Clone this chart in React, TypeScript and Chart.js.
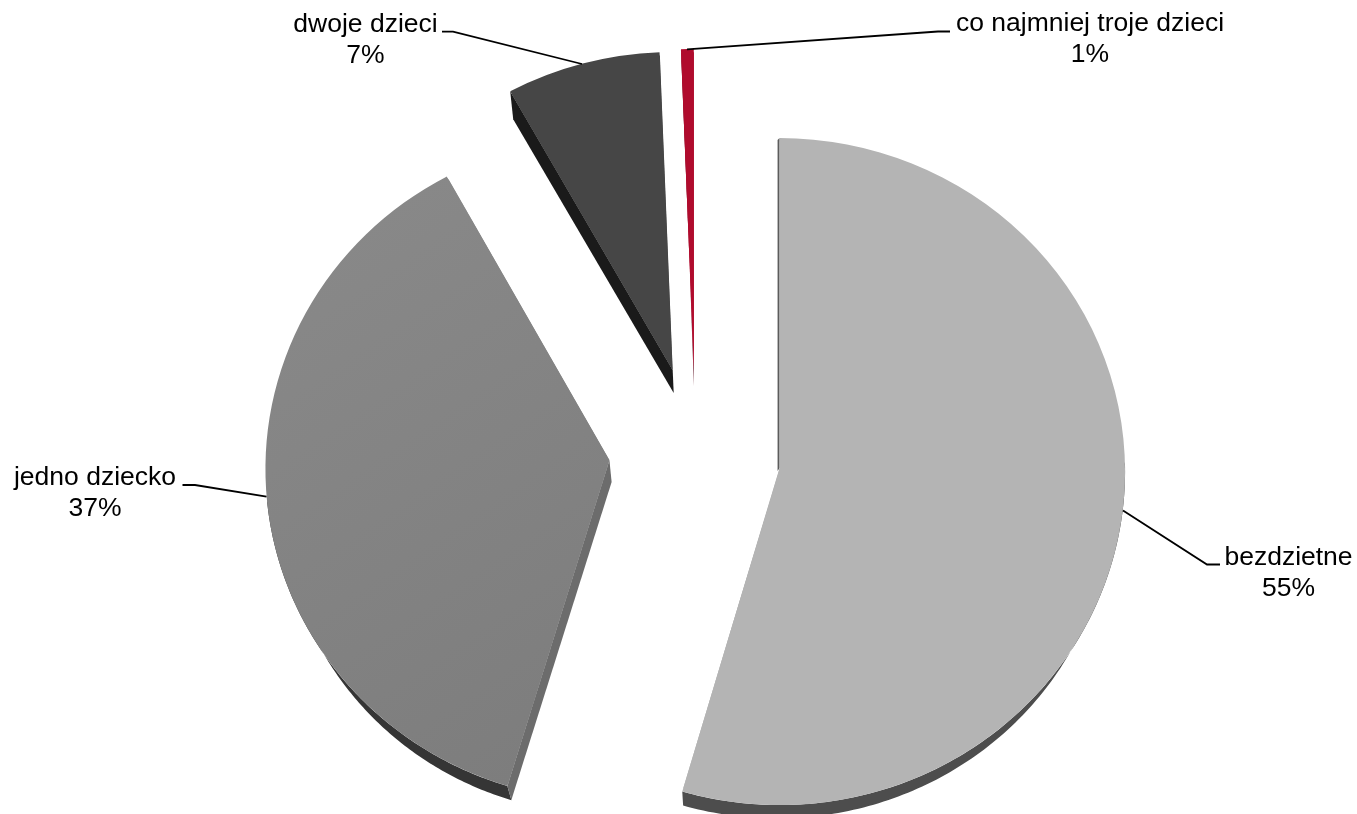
import React, { useEffect, useRef } from "react";
import { Chart, registerables } from "chart.js";

Chart.register(...registerables);

// ---- data ----
const categories = ["bezdzietne", "jedno dziecko", "dwoje dzieci", "co najmniej troje dzieci"];
const sliceValues = [54.67, 37.5, 7.23, 0.6];
const percentLabels = ["55%", "37%", "7%", "1%"];
const topColors = ["#B4B4B4", "#818181", "#464646", "#B00B2D"];
const rimColors = ["#4D4D4D", "#353535", "#1A1A1A", "#5A0A1C"];
const sideColors = ["#5C5C5C", "#6C6C6C", "#1A1A1A", "#5A0A1C"];

// ---- 3D view layout ----
const FONT = '26.5px "Liberation Sans", Arial, sans-serif';
const explode = 86;
const DEG = Math.PI / 180;
const radii = [
  { rx: 345.5, ry: 333.5 },
  { rx: 344, ry: 332 },
  { rx: 344, ry: 332 },
  { rx: 344, ry: 332 },
];
const sag = [
  { x: -0.5, y: 3 },
  { x: 0, y: 4.5 },
  { x: 0.2, y: 11 },
  { x: 0.5, y: 11 },
];
const apexLift = [-3.5, -9, -14, -12];
// small trim of each cut edge (degrees), the perspective opens a wider gap at the lower cut
const trims = [
  { s: 0, e: -0.45 },
  { s: 0.45, e: 0 },
  { s: 0, e: 0 },
  { s: 0, e: 0 },
];
// lower rim: shift and shrink of the bottom ellipse, and the part of the arc that shows it
const rimShift = [
  { x0: 4, x1: -4, y: 30, f: 0.95, from: 0.45, to: 1 },
  { x0: -1, x1: -1, y: 30, f: 0.95, from: 0, to: 0.5 },
  null,
  null,
];
// side wall on each slice's start edge: how far it drops at apex / outer corner
const sideWalls = [
  { apex: { x: -2, y: 3 }, corner: { x: -2, y: 2 } },
  { apex: { x: 2.2, y: 22 }, corner: { x: 4, y: 14 } },
  { apex: { x: 1, y: 23 }, corner: { x: 3, y: 28 } },
  { apex: { x: 0, y: 17 }, corner: { x: 2, y: 22 } },
];
const callouts = [
  { x: 1288.5, y: 565, line: [[1123, 510.5], [1207, 564.5], [1220, 564.5]] },
  { x: 95, y: 485, line: [[266.5, 496.7], [195, 485], [182.5, 485]] },
  { x: 365.5, y: 31.5, line: [[582, 64], [453, 31.7], [442, 31.7]] },
  { x: 1090, y: 30.7, line: [[687, 49.3], [938, 31.5], [950, 31.5]] },
];

const pie3d = {
  id: "pie3d",
  beforeDatasetDraw(chart: any, args: any) {
    const { ctx } = chart;
    const meta = args.meta;
    meta.data.forEach((arc: any, i: number) => {
      const { rx, ry } = radii[i];
      const mid = (arc.startAngle + arc.endAngle) / 2;
      const cx = arc.x + Math.cos(mid) * explode + sag[i].x;
      const cy = arc.y + Math.sin(mid) * explode + sag[i].y;
      const ax = cx;
      const ay = cy + apexLift[i];
      const a0 = arc.startAngle + trims[i].s * DEG;
      const a1 = arc.endAngle + trims[i].e * DEG;
      const pt = (a: number, k = 1) => ({ x: cx + rx * k * Math.cos(a), y: cy + ry * k * Math.sin(a) });
      const s = pt(a0);
      const e = pt(a1);

      // rim between the top arc and the lower, smaller arc
      const rs = rimShift[i];
      if (rs) {
        const b0 = a0 + (a1 - a0) * rs.from;
        const b1 = a0 + (a1 - a0) * rs.to;
        ctx.save();
        ctx.fillStyle = rimColors[i];
        ctx.beginPath();
        const steps = 120;
        for (let k = 0; k <= steps; k++) {
          const p = pt(b0 + ((b1 - b0) * k) / steps);
          k ? ctx.lineTo(p.x, p.y) : ctx.moveTo(p.x, p.y);
        }
        for (let k = steps; k >= 0; k--) {
          const p = pt(b0 + ((b1 - b0) * k) / steps, rs.f);
          ctx.lineTo(p.x + rs.x0 + ((rs.x1 - rs.x0) * k) / steps, p.y + rs.y);
        }
        ctx.closePath();
        ctx.fill();
        ctx.restore();
      }

      // flat radial wall on the slice's start edge
      const w = sideWalls[i];
      ctx.save();
      ctx.fillStyle = sideColors[i];
      ctx.beginPath();
      ctx.moveTo(ax, ay);
      ctx.lineTo(s.x, s.y);
      ctx.lineTo(s.x + w.corner.x, s.y + w.corner.y);
      ctx.lineTo(ax + w.apex.x, ay + w.apex.y);
      ctx.closePath();
      ctx.fill();
      ctx.restore();

      // top face: the library's arc, stretched to the view's ellipse and cut to the true apex
      ctx.save();
      ctx.beginPath();
      ctx.moveTo(ax, ay);
      ctx.lineTo(ax + (s.x - ax) * 1.6, ay + (s.y - ay) * 1.6);
      const n = Math.ceil((a1 - a0) / 0.3);
      for (let k = 1; k < n; k++) {
        const p = pt(a0 + ((a1 - a0) * k) / n, 2);
        ctx.lineTo(p.x, p.y);
      }
      ctx.lineTo(ax + (e.x - ax) * 1.6, ay + (e.y - ay) * 1.6);
      ctx.closePath();
      ctx.clip();
      let paint: any = topColors[i];
      if (i === 1) {
        const g = ctx.createLinearGradient(262, 293, 614, 773);
        g.addColorStop(0, "#888888");
        g.addColorStop(1, "#7C7C7C");
        paint = g;
      }
      const s2 = pt(a0, 0.99);
      const e2 = pt(a1, 0.99);
      ctx.fillStyle = paint;
      ctx.strokeStyle = paint;
      ctx.lineWidth = 2.5;
      ctx.beginPath();
      ctx.moveTo(ax, ay);
      ctx.lineTo(s2.x, s2.y);
      ctx.lineTo(cx, cy);
      ctx.lineTo(e2.x, e2.y);
      ctx.closePath();
      ctx.fill();
      ctx.stroke();
      ctx.translate(cx, cy);
      ctx.scale(rx / arc.outerRadius, ry / arc.outerRadius);
      ctx.translate(-arc.x, -arc.y);
      arc.draw(ctx);
      ctx.restore();
    });
    return false;
  },
  afterDraw(chart: any) {
    const { ctx } = chart;
    ctx.save();
    ctx.strokeStyle = "#000000";
    ctx.lineWidth = 1.8;
    ctx.fillStyle = "#000000";
    ctx.font = FONT;
    ctx.textAlign = "center";
    ctx.textBaseline = "alphabetic";
    callouts.forEach((c, i) => {
      ctx.beginPath();
      c.line.forEach(([x, y], k) => (k ? ctx.lineTo(x, y) : ctx.moveTo(x, y)));
      ctx.stroke();
      ctx.fillText(categories[i], c.x, c.y);
      ctx.fillText(percentLabels[i], c.x, c.y + 31.3);
    });
    ctx.restore();
  },
};

export default function App() {
  const ref = useRef<HTMLCanvasElement>(null);
  useEffect(() => {
    const chart = new Chart(ref.current as HTMLCanvasElement, {
      type: "pie",
      data: {
        labels: categories,
        datasets: [
          {
            data: sliceValues,
            backgroundColor: (c: any) => {
              if (c.dataIndex !== 1) return topColors[c.dataIndex];
              const g = c.chart.ctx.createLinearGradient(360, 280, 700, 760);
              g.addColorStop(0, "#888888");
              g.addColorStop(1, "#7C7C7C");
              return g;
            },
            borderWidth: 0,
          },
        ],
      },
      options: {
        animation: false,
        responsive: false,
        radius: 332,
        layout: { padding: { left: 33, right: 0, top: 98, bottom: 0 } },
        plugins: { legend: { display: false }, tooltip: { enabled: false } },
      } as any,
      plugins: [pie3d as any],
    });
    return () => chart.destroy();
  }, []);
  return (
    <div style={{ position: "absolute", left: 0, top: 0, width: 1357, height: 814, overflow: "hidden", background: "#fff" }}>
      <canvas ref={ref} width={1357} height={814} style={{ display: "block" }} />
    </div>
  );
}
